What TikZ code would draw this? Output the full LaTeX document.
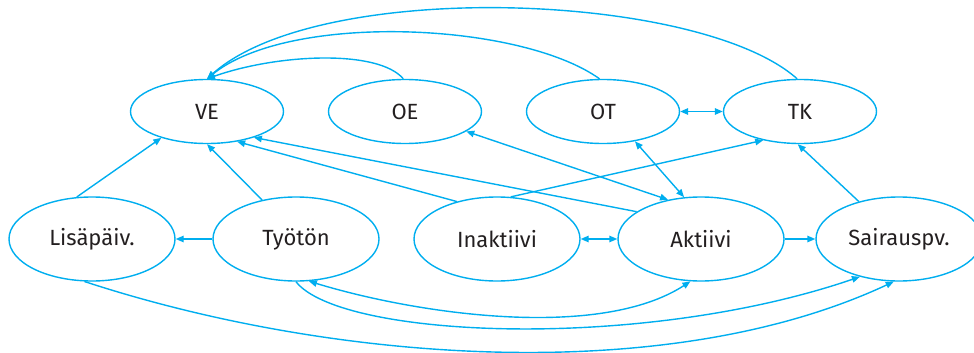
\documentclass[tikz,border=0pt]{standalone}
\usepackage{fontspec}
\setmainfont{Fira Sans}
\usetikzlibrary{shapes.geometric,arrows.meta}
\definecolor{lc}{RGB}{0,174,239}
\definecolor{tc}{RGB}{35,31,32}
\tikzset{
  st/.style={ellipse,draw=lc,line width=1.4pt,inner sep=0pt,text=tc,font=\fontsize{22}{25}\selectfont},
  topnode/.style={st,minimum width=153pt,minimum height=64pt},
  botnode/.style={st,minimum width=166pt,minimum height=84pt},
  conn/.style={draw=lc,line width=1.4pt,-{Triangle[length=8pt,width=6.5pt]}},
  dconn/.style={draw=lc,line width=1.4pt,{Triangle[length=8pt,width=6.5pt]}-{Triangle[length=8pt,width=6.5pt]}}
}
\begin{document}
\begin{tikzpicture}[x=1pt,y=-1pt]
\useasboundingbox (0,0) rectangle (974,353);
\node[topnode] (VE) at (207,111.5) {VE};
\node[topnode] (OE) at (405,111.5) {OE};
\node[topnode] (OT) at (603,111.5) {OT};
\node[topnode] (TK) at (800,111.5) {TK};
\node[botnode] (LP) at (92,239) {Lisäpäiv.};
\node[botnode] (TY) at (296,239) {Työtön};
\node[botnode] (IN) at (497,239) {Inaktiivi};
\node[botnode] (AK) at (701,239) {Aktiivi};
\node[botnode] (SA) at (899,239) {Sairauspv.};
% top curves into VE
\draw[conn] (OE.93) .. controls (378,49) and (277,54) .. (VE.90);
\draw[conn] (OT.96) .. controls (520,22) and (290,12) .. (VE.90);
\draw[conn] (TK.95) .. controls (700,-8) and (320,-22) .. (VE.90);
% straight lines into VE
\draw[conn] (LP.110) -- (VE.210);
\draw[conn] (TY.131) -- (VE.270);
\draw[conn] (IN.137) -- (VE.315.5);
\draw[conn] (AK.157) -- (VE.331);
% others
\draw[dconn] (AK.130) -- (OE.342.5);
\draw[dconn] (OT.317) -- (AK.112);
\draw[conn] (IN.72.4) -- (TK.218.6);
\draw[dconn] (OT.east) -- (TK.west);
\draw[conn] (SA.137) -- (TK.266);
\draw[conn] (TY.west) -- (LP.east);
\draw[dconn] (IN.east) -- (AK.west);
\draw[conn] (AK.east) -- (SA.west);
% bottom curves
\draw[dconn] (TY.287.6) .. controls (420,315) and (600,340) .. (AK.256);
\draw[conn] (TY.270) .. controls (340,338) and (640,352) .. (SA.224);
\draw[conn] (LP.260.5) .. controls (330,362) and (666,388) .. (SA.263);
\end{tikzpicture}
\end{document}
